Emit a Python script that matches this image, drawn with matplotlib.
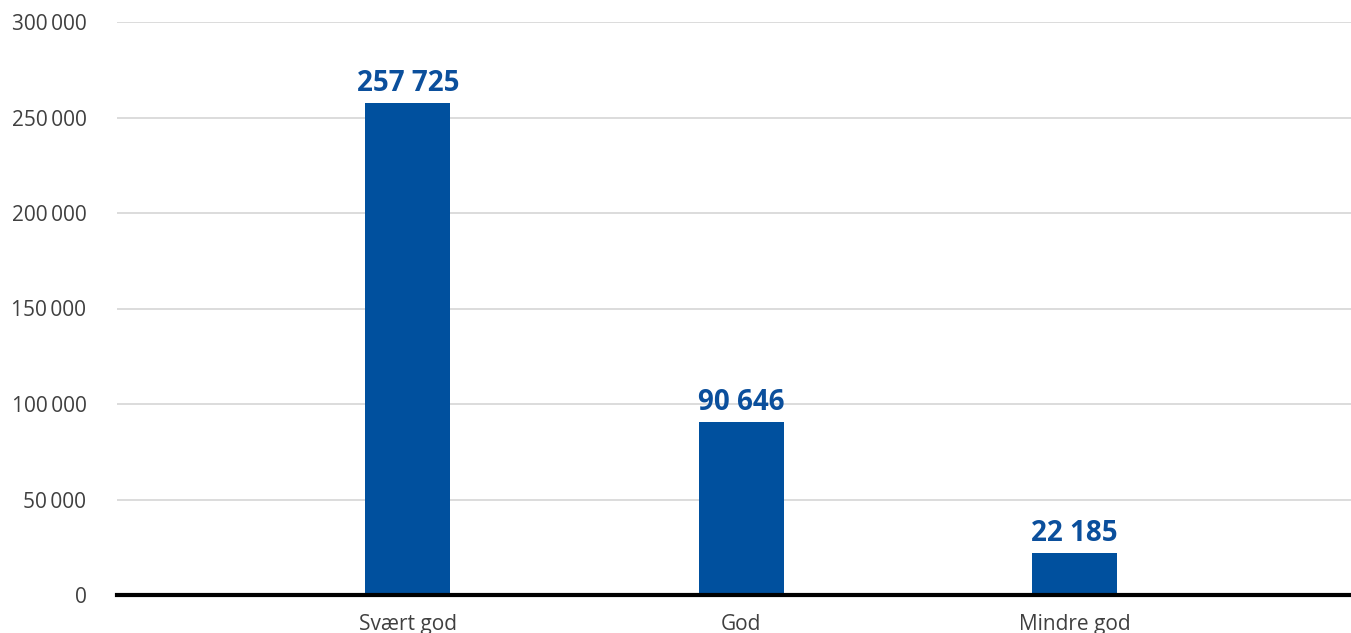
import matplotlib
matplotlib.use("Agg")
import matplotlib.pyplot as plt
import numpy as np

categories = ["Svært god", "God", "Mindre god"]
values = [257725, 90646, 22185]
value_labels = ["257 725", "90 646", "22 185"]
yticks = [0, 50000, 100000, 150000, 200000, 250000, 300000]

plt.rcParams['font.family'] = ['Open Sans', 'DejaVu Sans']

fig = plt.figure(figsize=(13.51, 6.33), dpi=100)
ax = fig.add_axes([117/1351, 38/633, 1 - 117/1351, (595 - 22)/633])

x = np.arange(len(categories))
ax.bar(x, values, width=0.255, color="#00509E", zorder=3)
for xi, v, lab in zip(x, values, value_labels):
    ax.text(xi, v + 2500, lab, ha="center", va="bottom", fontsize=20,
            fontweight="bold", color="#0B4F9C", zorder=4)

ax.set_xlim(-0.873, 2.83)
ax.set_ylim(0, 300000)
ax.set_yticks(yticks)
ax.set_yticklabels([f"{t:,}".replace(",", "\u2009") for t in yticks],
                   fontsize=15, color="#404040")
ax.set_xticks(x)
ax.set_xticklabels(categories, fontsize=15, color="#404040")
ax.tick_params(axis="both", length=0)
ax.tick_params(axis="y", pad=22)
ax.tick_params(axis="x", pad=14)
ax.grid(axis="y", color="#D9D9D9", linewidth=1.3, zorder=0)
for s in ["top", "right", "left"]:
    ax.spines[s].set_visible(False)
ax.spines["bottom"].set_color("black")
ax.spines["bottom"].set_linewidth(3)
ax.spines["bottom"].set_zorder(5)

fig.savefig("out.png", dpi=100)
